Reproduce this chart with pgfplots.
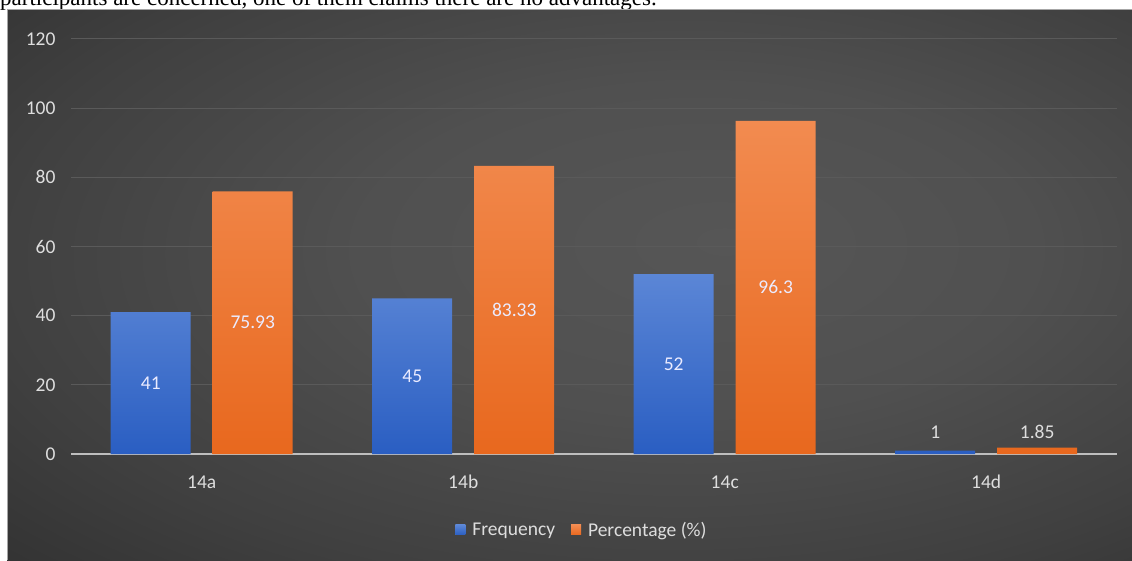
\documentclass[border=0pt]{standalone}
\usepackage{pgfplots}
\usepackage{pgfplotstable}
\pgfplotsset{compat=1.18}
\usepackage{fontspec}
\setmainfont{Carlito}
\newfontfamily\serif{Liberation Serif}
\definecolor{blueTop}{HTML}{5B86D6}
\definecolor{blueBot}{HTML}{2A5EC2}
\definecolor{orTop}{HTML}{F28B50}
\definecolor{orBot}{HTML}{E8681E}
\definecolor{gridc}{HTML}{5A5A5A}
\definecolor{zeroc}{HTML}{BEBEBE}
\definecolor{tickc}{HTML}{DEDEDE}
\pgfdeclareradialshading{bgshade}{\pgfpoint{7bp}{4bp}}{color(0bp)=(rgb,255:red,86;green,86;blue,86); color(15bp)=(rgb,255:red,80;green,80;blue,80); color(30bp)=(rgb,255:red,64;green,64;blue,64); color(45bp)=(rgb,255:red,44;green,44;blue,44); color(56bp)=(rgb,255:red,34;green,34;blue,34); color(80bp)=(rgb,255:red,30;green,30;blue,30)}
\pgfplotstableread{
x y lab
-0.195 41 41
0.195 75.93 75.93
0.805 45 45
1.195 83.33 83.33
1.805 52 52
2.195 96.3 96.3
}\midlabels
\pgfplotstableread{
x y lab
2.805 6.4 1
3.195 6.4 1.85
}\smalllabels
\begin{document}
\begin{tikzpicture}[x=1pt,y=1pt]
\clip (0,0) rectangle (1132,560);
\fill[white] (0,0) rectangle (1132,560);
\node[anchor=base west, inner sep=0pt] at (0,554) {\serif\fontsize{23}{27}\selectfont participants are concerned, one of them claims there are no advantages.};
\shade[shading=bgshade] (7,0) rectangle (1132,550);
\draw[gray!70, line width=1pt] (7.5,0) -- (7.5,550) -- (1132,550);
\begin{axis}[
  at={(71pt,106pt)}, anchor=south west,
  scale only axis, width=1046pt, height=415pt,
  xmin=-0.5, xmax=3.5, ymin=0, ymax=120,
  axis line style={draw=none},
  major tick length=0pt,
  xtick={0,1,2,3}, xticklabels={14a,14b,14c,14d},
  ytick={20,40,60,80,100,120},
  extra y ticks={0}, extra y tick labels={0},
  extra y tick style={grid style={color=zeroc, line width=2pt}},
  ymajorgrids, grid style={color=gridc, line width=1pt},
  /pgf/number format/assume math mode=true,
  tick label style={font=\fontsize{19.5}{22}\selectfont, text=tickc},
  yticklabel style={anchor=east, xshift=-12pt},
  xticklabel style={anchor=center, yshift=-28pt},
  legend style={at={(0.4885,-0.183)}, anchor=center, legend columns=2, draw=none, fill=none,
    font=\fontsize{19.5}{22}\selectfont, text=tickc, /tikz/every even column/.append style={column sep=14pt}},
  legend cell align=left,
]
\addplot[ybar, bar width=80pt, bar shift=-51pt, draw=none, top color=blueTop, bottom color=blueBot,
  legend image code/.code={\path (0pt,0pt) -- (15pt,0pt); \fill[blueTop!50!blueBot] (0pt,-5pt) rectangle (10pt,5pt);}]
  coordinates {(0,41) (1,45) (2,52) (3,1)};
\addlegendentry{Frequency}
\addplot[ybar, bar width=80pt, bar shift=51pt, draw=none, top color=orTop, bottom color=orBot,
  legend image code/.code={\path (0pt,0pt) -- (15pt,0pt); \fill[orTop!50!orBot] (0pt,-5pt) rectangle (10pt,5pt);}]
  coordinates {(0,75.93) (1,83.33) (2,96.3) (3,1.85)};
\addlegendentry{Percentage (\%)}
\addplot[forget plot, draw=none, mark=none, nodes near coords, point meta=explicit symbolic,
  every node near coord/.style={anchor=center, font=\fontsize{19.5}{22}\selectfont, text=white!92!blue}]
  table[x=x, y expr=\thisrow{y}/2, meta=lab] {\midlabels};
\addplot[forget plot, draw=none, mark=none, nodes near coords, point meta=explicit symbolic,
  every node near coord/.style={anchor=center, font=\fontsize{19.5}{22}\selectfont, text=tickc}]
  table[x=x, y=y, meta=lab] {\smalllabels};
\end{axis}
\end{tikzpicture}
\end{document}
